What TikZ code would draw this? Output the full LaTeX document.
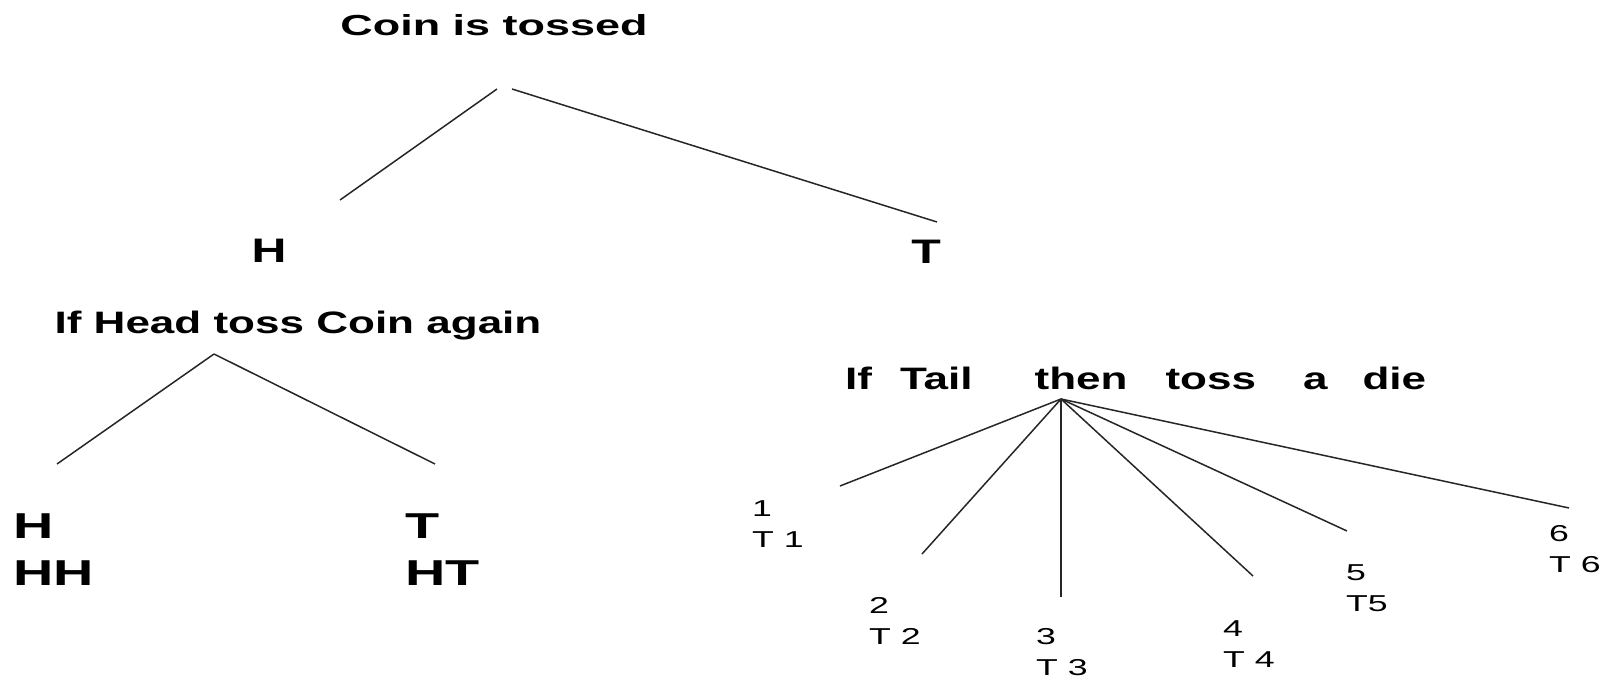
\documentclass[tikz,border=0pt]{standalone}
\usepackage{fontspec}
\setmainfont{Liberation Sans}[FakeStretch=1.42]
\newfontfamily\widesans{Liberation Sans}[FakeStretch=1.55]
\begin{document}
\begin{tikzpicture}[
    x=1pt, y=-1pt,
    heading/.style={font=\widesans\bfseries\fontsize{29}{35}\selectfont, inner sep=0pt, anchor=base},
    question/.style={font=\bfseries\fontsize{31}{37}\selectfont, inner sep=0pt, anchor=base},
    result/.style={font=\bfseries\fontsize{34}{40}\selectfont, inner sep=0pt, anchor=base},
    outcome/.style={font=\widesans\bfseries\fontsize{36}{47}\selectfont, inner sep=0pt, anchor=base west, align=left},
    face/.style={font=\widesans\fontsize{23}{31}\selectfont, inner sep=0pt, anchor=base west, align=left},
    branch/.style={line width=1.5pt, black!85}
]
    \useasboundingbox (0,0) rectangle (1612,679);

    % First toss
    \node[heading] (coin) at (494,36) {Coin is tossed};
    \coordinate (coinL) at (497,89);
    \coordinate (coinR) at (512,89);
    \coordinate (headEnd) at (340,200);
    \coordinate (tailEnd) at (937,222);
    \node[result] (head) at (269,262) {H};
    \node[result] (tail) at (926,263) {T};
    \draw[branch] (coinL) -- (headEnd);
    \draw[branch] (coinR) -- (tailEnd);

    % Head: second coin
    \node[question] (again) at (298,333) {If Head toss Coin again};
    \coordinate (againTop) at (214,354);
    \coordinate (hhEnd) at (57,464);
    \coordinate (htEnd) at (435,464);
    \node[outcome] (hh) at (13,585) {H\\HH};
    \node[outcome] (ht) at (405,585) {T\\HT};
    \draw[branch] (againTop) -- (hhEnd);
    \draw[branch] (againTop) -- (htEnd);

    % Tail: die
    \node[question, anchor=base west] (die) at (845,389)
        {If\hspace{28pt}Tail\hspace{62pt}then\hspace{38pt}toss\hspace{47pt}a\hspace{35pt}die};
    \coordinate (dieTop) at (1061,399);
    \coordinate (end1) at (840,486);
    \coordinate (end2) at (922,554);
    \coordinate (end3) at (1061,597);
    \coordinate (end4) at (1253,576);
    \coordinate (end5) at (1347,531);
    \coordinate (end6) at (1569,508);
    \node[face] (face1) at (752,547) {1\\T 1};
    \node[face] (face2) at (869,644) {2\\T 2};
    \node[face] (face3) at (1036,675) {3\\T 3};
    \node[face] (face4) at (1223,667) {4\\T 4};
    \node[face] (face5) at (1346,611) {5\\T5};
    \node[face] (face6) at (1549,572) {6\\T 6};
    \foreach \k in {1,...,6}
        \draw[branch] (dieTop) -- (end\k);

\end{tikzpicture}
\end{document}
